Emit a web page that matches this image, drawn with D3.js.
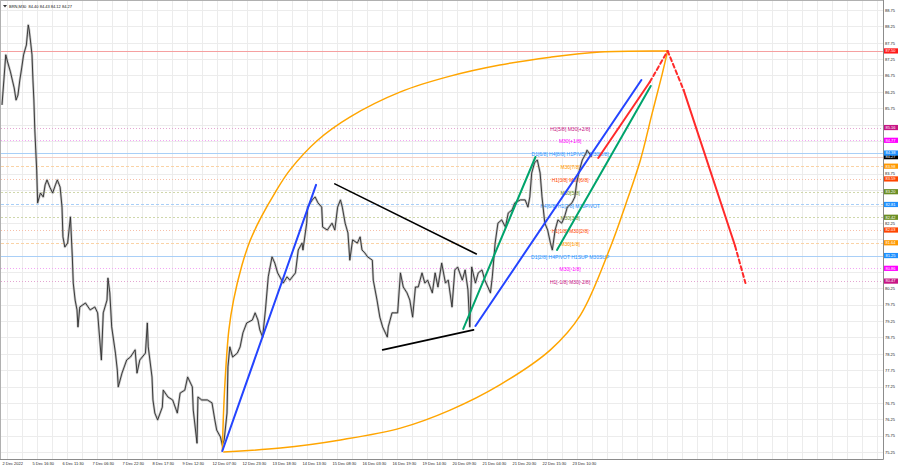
<!DOCTYPE html>
<html><head><meta charset="utf-8">
<script src="https://cdn.jsdelivr.net/npm/d3@7/dist/d3.min.js"></script>
<style>
body{margin:0;background:#fff}
svg{display:block}
text{font-family:"Liberation Sans",Arial,sans-serif}
</style>
</head><body>
<svg id="c" width="900" height="468"></svg>
<script>
// ---------------- DATA ----------------
const chartTitle = "BRN,M30  84.40 84.43 84.12 84.27";
const timeLabels = ["2 Dec 2022","5 Dec 16:30","6 Dec 11:30","7 Dec 06:30","7 Dec 22:30","8 Dec 17:30","9 Dec 12:30","12 Dec 07:30","12 Dec 23:30","13 Dec 18:30","14 Dec 13:30","15 Dec 08:30","16 Dec 03:30","16 Dec 19:30","19 Dec 14:30","20 Dec 09:30","21 Dec 04:30","21 Dec 20:30","22 Dec 15:30","23 Dec 10:30"];
const timeLabelBars = [0,32,64,96,128,160,192,224,256,288,320,352,384,416,448,480,512,544,576,608];
const priceTicks = [75.25,75.75,76.25,76.75,77.25,77.75,78.25,78.75,79.25,79.75,80.25,80.75,81.25,81.75,82.25,82.75,83.25,83.75,84.25,84.75,85.25,85.75,86.25,86.75,87.25,87.75,88.25,88.75];

// price path (M30 bar index, price)
const barIndex = [0,2,4,6,9,11,13,15,17,19,21,23,26,27,28,29,30,32,33,34,35,36,37,38,41,44,46,48,51,54,57,59,62,64,65,67,70,73,75,76,78,80,81,83,89,94,99,102,106,108,112,113,115,117,121,123,124,128,133,137,142,144,147,153,155,156,160,161,163,166,171,172,177,182,187,190,195,198,203,204,208,209,213,219,224,227,229,233,235,237,240,241,243,246,251,254,257,261,267,270,273,275,278,281,284,288,291,294,300,304,307,313,316,320,321,325,326,331,334,337,341,342,347,352,355,358,361,363,366,369,371,374,379,382,384,387,390,395,396,400,403,406,411,412,416,419,422,425,428,432,435,438,441,444,448,451,454,459,462,465,469,473,476,480,483,486,491,494,497,499,501,505,508,512,515,521,523,526,529,533,537,540,544,547,553,558,561,563,565,568,571,574,576,579,582,585,587,590,593,597,600,603,608,611,613,616,619,623,624,629];
const barPrice = [85.85,86.61,87.38,87.16,86.86,86.61,86.37,86.00,86.15,86.61,86.98,87.38,87.68,87.99,88.29,88.14,87.90,87.38,86.61,86.00,85.09,84.47,83.86,82.86,83.16,83.04,83.41,83.56,83.34,83.16,83.41,83.56,83.34,82.73,81.82,81.51,81.63,82.43,81.21,80.41,79.89,79.59,79.07,79.68,79.80,79.59,79.68,79.50,78.06,79.50,79.89,80.56,80.11,79.07,78.27,77.75,77.24,77.66,78.06,78.15,78.37,77.66,78.06,78.27,79.19,78.46,77.54,76.84,76.44,76.23,76.62,77.14,76.93,76.84,76.44,77.05,77.14,77.54,77.24,76.53,75.52,76.93,76.84,76.84,76.75,76.23,75.92,75.71,75.46,75.62,76.44,77.85,78.46,78.15,78.27,78.46,78.89,79.19,79.28,79.50,79.28,78.98,78.76,79.59,80.60,81.21,81.02,80.72,80.41,80.60,80.50,80.72,81.42,81.63,81.42,82.24,82.73,82.95,83.04,82.86,82.73,82.12,82.03,82.24,82.03,82.73,82.95,82.73,82.24,81.94,81.11,81.73,81.63,81.82,81.42,81.33,81.21,81.11,80.50,79.89,79.37,79.07,78.76,79.07,79.50,79.50,79.50,80.72,80.29,80.11,79.89,79.37,80.29,80.29,80.72,80.41,80.50,80.11,80.72,80.29,81.02,80.41,80.50,79.68,80.81,80.90,80.50,80.81,80.20,79.07,80.90,80.41,80.72,80.81,80.50,80.11,80.60,81.63,82.24,82.34,82.12,82.55,82.64,82.86,82.95,82.95,82.73,83.04,83.77,84.08,84.17,83.77,83.04,82.24,82.03,81.63,81.42,82.03,82.34,82.24,82.43,82.73,82.86,83.04,83.47,83.86,84.17,84.38,84.47,84.27];

// Murrey levels
const levelPrices = [85.16,84.77,84.38,83.98,83.59,83.20,82.81,82.42,82.03,81.64,81.25,80.86,80.47];
const levelNames = ["H1[5/8] M30[+2/8]","M30[+1/8]","D1[6/8] H4[8/8] H1PIVOT M30[8/8]","M30[7/8]","H1[3/8] M30[6/8]","M30[5/8]","H4[6/8] H1[2/8] M30PIVOT","M30[3/8]","H1[1/8] M30[2/8]","M30[1/8]","D1[2/8] H4PIVOT H1SUP M30SUP","M30[-1/8]","H1[-1/8] M30[-2/8]"];
const levelKinds = ["ext2","ext1","major","q7","q6","q5","pivot","q5","q6","q7","major","ext1","ext2"];
const levelLabelBar = 606;
const targetPrice = 87.50;
const bidPrice = 84.27;

// annotations (bar index, price)
const blueLines  = [[[235,75.28],[335,83.41]], [[505,79.10],[682,86.61]]];
const greenLines = [[[492,79.01],[569,84.26]], [[592,81.42],[692,86.43]]];
const blackLines = [[[355,83.44],[506,81.30]], [[406,78.37],[503,78.98]]];
const redSolid   = [[[636,84.23],[691,86.55]], [[727,86.31],[782,81.54]]];
const redDashed  = [[[691,86.55],[710,87.50]], [[710,87.50],[727,86.31]], [[782,81.54],[793,80.41]]];
const arcUpper = [[235,75.28],[236,76.23],[238,77.45],[242,78.98],[247,79.89],[256,80.96],[265,81.73],[276,82.40],[291,83.16],[307,83.86],[337,84.78],[371,85.48],[425,86.25],[478,86.73],[531,87.07],[585,87.31],[638,87.47],[710,87.50]];
const arcLower = [[236,75.25],[297,75.37],[361,75.62],[425,75.98],[478,76.53],[531,77.30],[585,78.37],[617,79.43],[649,81.51],[665,82.79],[681,84.17],[693,85.54],[704,86.77],[710,87.50]];

// ---------------- STYLES ----------------
const kindStyle = {
  ext2:  {color:"#c71585", line:"#e4a6d2", dash:"1,2"},
  ext1:  {color:"#ff00ff", line:"#f4a4f4", dash:"1,2"},
  major: {color:"#1e90ff", line:"#a9cff7", dash:null},
  q7:    {color:"#ff9900", line:"#fad3a6", dash:"3,2"},
  q6:    {color:"#ff4500", line:"#f7bfa8", dash:"1,2"},
  q5:    {color:"#6b8e23", line:"#cfd7ab", dash:"2,2"},
  pivot: {color:"#1e90ff", line:"#a9cff7", dash:"3,2"}
};

// ---------------- DRAW ----------------
const svg = d3.select("#c");
const P = {left:1, top:1, right:883, bottom:459};
const x = d3.scaleLinear().domain([0, 940]).range([2, 2 + 940 * 30 / 32]);
const y = d3.scaleLinear().domain([75.25, 88.75]).range([452, 10]);

svg.append("rect").attr("width",900).attr("height",468).attr("fill","#fff");
svg.append("defs").append("clipPath").attr("id","pc").append("rect")
  .attr("x",P.left).attr("y",P.top).attr("width",P.right-P.left).attr("height",P.bottom-P.top);

const g = svg.append("g").attr("clip-path","url(#pc)");

// grid
g.append("g").selectAll("line").data(priceTicks).join("line")
  .attr("x1",P.left).attr("x2",P.right)
  .attr("y1",d=>Math.round(y(d))+0.5).attr("y2",d=>Math.round(y(d))+0.5)
  .attr("stroke","#ececec").attr("stroke-width",1);
const vgrid = d3.range(5, 940, 16);
g.append("g").selectAll("line").data(vgrid).join("line")
  .attr("y1",P.top).attr("y2",P.bottom)
  .attr("x1",d=>Math.round(x(d))+0.5).attr("x2",d=>Math.round(x(d))+0.5)
  .attr("stroke","#ececec").attr("stroke-width",1);

// levels
levelPrices.forEach((p,i)=>{
  const st = kindStyle[levelKinds[i]];
  g.append("line").attr("x1",P.left).attr("x2",P.right)
    .attr("y1",Math.round(y(p))+0.5).attr("y2",Math.round(y(p))+0.5)
    .attr("stroke",st.line).attr("stroke-width",1)
    .attr("stroke-dasharray",st.dash);
});
g.append("line").attr("x1",P.left).attr("x2",P.right)
  .attr("y1",Math.round(y(targetPrice))+0.5).attr("y2",Math.round(y(targetPrice))+0.5)
  .attr("stroke","#f5a0a0").attr("stroke-width",1);
g.append("line").attr("x1",P.left).attr("x2",P.right)
  .attr("y1",Math.round(y(bidPrice))+0.5).attr("y2",Math.round(y(bidPrice))+0.5)
  .attr("stroke","#f3cfc6").attr("stroke-width",1);

// level labels
levelPrices.forEach((p,i)=>{
  const st = kindStyle[levelKinds[i]];
  g.append("text").attr("x",x(levelLabelBar)).attr("y",y(p)+1.8)
    .attr("text-anchor","middle").attr("dominant-baseline","middle")
    .attr("font-size",5).attr("fill",st.color).text(levelNames[i]);
});

// price path
const pts = barIndex.map((b,i)=>[b, barPrice[i]]);
const pline = d3.line().x(d=>x(d[0])).y(d=>y(d[1]));
g.append("path").attr("d",pline(pts)).attr("fill","none")
  .attr("stroke","#a0a0a0").attr("stroke-width",2.4).attr("stroke-opacity",0.6).attr("stroke-linejoin","round");
g.append("path").attr("d",pline(pts)).attr("fill","none")
  .attr("stroke","#2b2b2b").attr("stroke-width",0.9).attr("stroke-linejoin","round");

// arcs
const arcLine = d3.line().x(d=>x(d[0])).y(d=>y(d[1])).curve(d3.curveCatmullRom.alpha(0.5));
[arcUpper, arcLower].forEach(a=>{
  g.append("path").attr("d",arcLine(a)).attr("fill","none")
    .attr("stroke","#ffa500").attr("stroke-width",1.5);
});

// trend lines
function seg(list, color, w, dash){
  g.append("g").selectAll("line").data(list).join("line")
    .attr("x1",d=>x(d[0][0])).attr("y1",d=>y(d[0][1]))
    .attr("x2",d=>x(d[1][0])).attr("y2",d=>y(d[1][1]))
    .attr("stroke",color).attr("stroke-width",w)
    .attr("stroke-dasharray",dash).attr("stroke-linecap","round");
}
seg(blackLines, "#000000", 1.6, null);
seg(blueLines, "#2444ff", 2, null);
seg(greenLines, "#00a46c", 2, null);
seg(redSolid, "#ff2a2a", 2, null);
seg(redDashed, "#ff2a2a", 2, "4,3");

// frame
svg.append("line").attr("x1",P.right+0.5).attr("x2",P.right+0.5).attr("y1",0).attr("y2",P.bottom+0.5).attr("stroke","#8c8c8c");
svg.append("line").attr("x1",0).attr("x2",P.right+0.5).attr("y1",P.bottom+0.5).attr("y2",P.bottom+0.5).attr("stroke","#8c8c8c");
svg.append("line").attr("x1",0.5).attr("x2",0.5).attr("y1",0).attr("y2",P.bottom).attr("stroke","#b0b0b0");
svg.append("line").attr("x1",0).attr("x2",P.right).attr("y1",0.5).attr("y2",0.5).attr("stroke","#b0b0b0");

// right price boxes data
const boxes = [{p:bidPrice,c:"#000000"},{p:targetPrice,c:"#ff1a1a"}]
  .concat(levelPrices.map((p,i)=>({p:p,c:kindStyle[levelKinds[i]].color})));
const boxYs = boxes.map(b=>y(b.p));

// right axis (ticks hidden where a price box sits)
const visTicks = priceTicks.filter(t=>boxYs.every(by=>Math.abs(by - y(t)) > 4.2));
const ya = svg.append("g").attr("transform",`translate(${P.right},0)`)
  .call(d3.axisRight(y).tickValues(visTicks).tickSize(0).tickPadding(2).tickFormat(d3.format(".2f")));
ya.select(".domain").remove();
ya.selectAll("text").attr("font-size",4).attr("fill","#222").attr("font-family","Liberation Sans, Arial, sans-serif");

// bottom axis
const xa = svg.append("g").attr("transform",`translate(0,${P.bottom})`)
  .call(d3.axisBottom(x).tickValues(timeLabelBars).tickSize(0).tickPadding(3).tickFormat((d,i)=>timeLabels[i]));
xa.select(".domain").remove();
xa.selectAll("text").attr("font-size",4).attr("fill","#222").attr("text-anchor","start")
  .attr("font-family","Liberation Sans, Arial, sans-serif");

// boxes (bid first so the blue level box sits over it)
boxes.forEach((b,k)=>{
  const yy = boxYs[k];
  svg.append("rect").attr("x",P.right+1).attr("y",yy-2.6).attr("width",14).attr("height",5.2).attr("fill",b.c);
  svg.append("text").attr("x",P.right+2.5).attr("y",yy+1.4).attr("font-size",4).attr("fill","#fff")
    .text(d3.format(".2f")(b.p));
});

// title
svg.append("path").attr("d","M3,5 L7,5 L5,7.5 Z").attr("fill","#333");
svg.append("text").attr("x",9).attr("y",7.5).attr("font-size",4).attr("fill","#111")
  .style("white-space","pre").text(chartTitle);
</script>
</body></html>
